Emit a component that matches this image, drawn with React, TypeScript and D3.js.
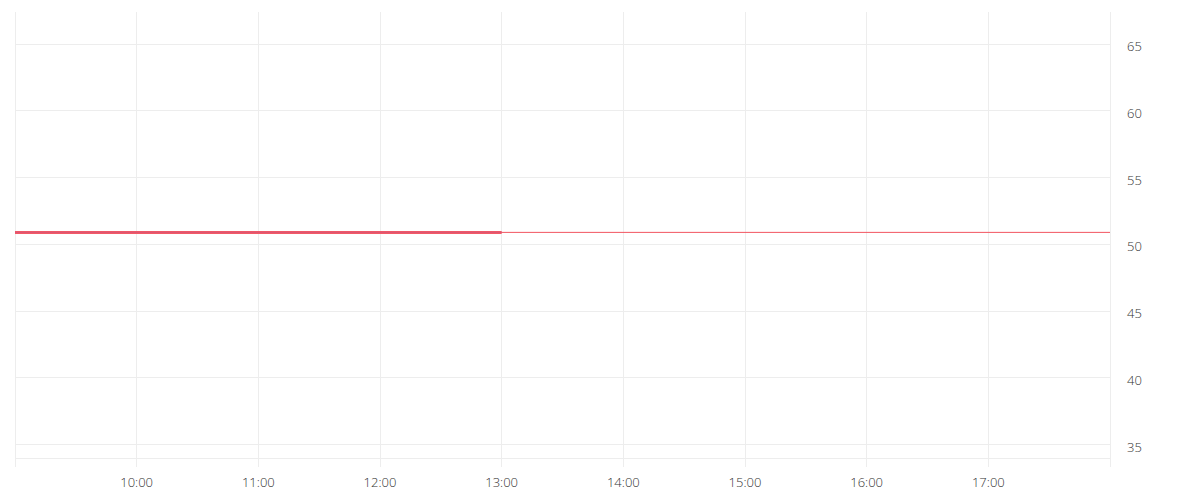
import { useEffect, useRef } from 'react';
import * as d3 from 'd3';

const DAY = '2024-01-02';

// session range shown on the x axis
const X_RANGE = ['09:00', '18:00'];
const Y_RANGE = [33.97, 67.4];

const X_TICKS = ['10:00', '11:00', '12:00', '13:00', '14:00', '15:00', '16:00', '17:00'];
const Y_TICKS = [35, 40, 45, 50, 55, 60, 65];

// traded series (thick) and reference level (thin)
const SERIES_TIMES = ['09:00', '13:00'];
const SERIES_VALUES = [50.9, 50.9];
const LEVEL_TIMES = ['09:00', '18:00'];
const LEVEL_VALUES = [50.9, 50.9];

const parseTime = (t: string) => new Date(`${DAY}T${t}:00`);

export default function App() {
  const svgRef = useRef<SVGSVGElement>(null);
  const width = 1200;
  const height = 500;

  useEffect(() => {
    if (!svgRef.current) return;
    const svg = d3.select(svgRef.current);
    svg.selectAll('*').remove();

    const left = 15;
    const right = 1110;
    const top = 12;
    const bottom = 458.5;

    const x = d3.scaleTime()
      .domain(X_RANGE.map(parseTime))
      .range([left, right]);
    const y = d3.scaleLinear()
      .domain(Y_RANGE)
      .range([bottom, top]);

    const px = (v: number) => Math.floor(v) + 0.5;

    const grid = svg.append('g').attr('stroke', '#ededed').attr('stroke-width', 1);

    // vertical grid, runs a bit past the bottom line like tick marks
    const vLines = [X_RANGE[0], ...X_TICKS, X_RANGE[1]];
    grid.selectAll('.v')
      .data(vLines)
      .enter()
      .append('line')
      .attr('x1', d => px(x(parseTime(d))))
      .attr('x2', d => px(x(parseTime(d))))
      .attr('y1', top)
      .attr('y2', 467);

    grid.selectAll('.h')
      .data(Y_TICKS)
      .enter()
      .append('line')
      .attr('x1', left)
      .attr('x2', right)
      .attr('y1', d => px(y(d)))
      .attr('y2', d => px(y(d)));

    grid.append('line')
      .attr('x1', left)
      .attr('x2', right)
      .attr('y1', bottom)
      .attr('y2', bottom);

    const line = d3.line<[Date, number]>()
      .x(d => x(d[0]))
      .y(d => y(d[1]));

    const seriesPts = SERIES_TIMES.map((t, i) => [parseTime(t), SERIES_VALUES[i]] as [Date, number]);
    const levelPts = LEVEL_TIMES.map((t, i) => [parseTime(t), LEVEL_VALUES[i]] as [Date, number]);

    svg.append('path')
      .attr('d', line(seriesPts) as string)
      .attr('fill', 'none')
      .attr('stroke', '#f25a66')
      .attr('stroke-width', 3);

    svg.append('path')
      .attr('d', line(levelPts) as string)
      .attr('fill', 'none')
      .attr('stroke', '#f25560')
      .attr('stroke-width', 1);

    // overlay tint on the traded part
    svg.append('path')
      .attr('d', line(seriesPts) as string)
      .attr('fill', 'none')
      .attr('stroke', 'rgba(120, 90, 210, 0.2)')
      .attr('stroke-width', 1);

    const font = '"Open Sans", sans-serif';

    svg.selectAll('.ylab')
      .data(Y_TICKS)
      .enter()
      .append('text')
      .attr('x', 1127)
      .attr('y', d => y(d) + 7)
      .attr('font-family', font)
      .attr('font-size', '13px')
      .attr('font-weight', 300)
      .attr('fill', '#333')
      .text(d => String(d));

    svg.selectAll('.xlab')
      .data(X_TICKS)
      .enter()
      .append('text')
      .attr('x', d => x(parseTime(d)))
      .attr('y', 487)
      .attr('text-anchor', 'middle')
      .attr('font-family', font)
      .attr('font-size', '13px')
      .attr('font-weight', 300)
      .attr('fill', '#333')
      .text(d => d);
  }, []);

  return (
    <svg
      ref={svgRef}
      width={width}
      height={height}
      style={{ position: 'absolute', left: 0, top: 0, background: '#fff' }}
    />
  );
}
